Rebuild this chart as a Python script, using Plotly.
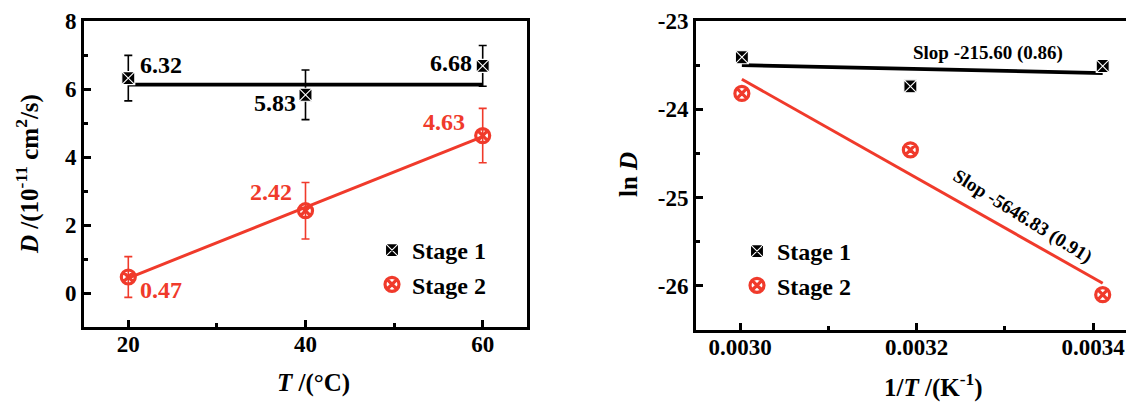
import plotly.graph_objects as go

# ---------------- data ----------------
T_c = [20, 40, 60]
stage1_D = [6.32, 5.83, 6.68]
stage1_err = [0.67, 0.73, 0.60]
stage2_D = [0.47, 2.42, 4.63]
stage2_err = [0.60, 0.83, 0.80]
fit1_T = [20, 60]
fit1_D = [6.13, 6.13]
fit2_T = [20, 60]
fit2_D = [0.44, 4.60]

inv_T = [0.003002, 0.003193, 0.003411]
stage1_lnD = [-23.41, -23.74, -23.51]
stage2_lnD = [-23.82, -24.46, -26.10]
fit1_invT = [0.003002, 0.003411]
fit1_lnD = [-23.50, -23.59]
fit2_invT = [0.003002, 0.003411]
fit2_lnD = [-23.66, -25.97]

slope_texts = ["Slop -215.60 (0.86)", "Slop -5646.83 (0.91)"]
left_xticks = [20, 40, 60]
left_yticks = [0, 2, 4, 6, 8]
right_xticks = [0.0030, 0.0032, 0.0034]
right_xticktext = ["0.0030", "0.0032", "0.0034"]
right_yticks = [-26, -25, -24, -23]
right_yticktext = ["-26", "-25", "-24", "-23"]

# ---------------- style ----------------
W, H = 1126, 404
FONT = "Liberation Serif"
RED = "#F03A2B"
BLACK = "#000000"

def px(x):
    return x / W

def py(y):
    return 1 - y / H

fig = go.Figure()

m1 = dict(symbol="square-x", size=13, color=BLACK, line=dict(color="white", width=1.1))
m2 = dict(symbol="circle-x-open", size=14, color=RED, line=dict(color=RED, width=3.2))

# left panel
fig.add_trace(go.Scatter(x=fit1_T, y=fit1_D, mode="lines", line=dict(color=BLACK, width=3.8),
                         showlegend=False, xaxis="x", yaxis="y"))
fig.add_trace(go.Scatter(x=fit2_T, y=fit2_D, mode="lines", line=dict(color=RED, width=3),
                         showlegend=False, xaxis="x", yaxis="y"))
fig.add_trace(go.Scatter(x=T_c, y=stage1_D, mode="markers", name="Stage 1", marker=m1,
                         error_y=dict(type="data", array=stage1_err, color=BLACK, thickness=1.6, width=4),
                         legend="legend", xaxis="x", yaxis="y"))
fig.add_trace(go.Scatter(x=T_c, y=stage2_D, mode="markers", name="Stage 2", marker=m2,
                         error_y=dict(type="data", array=stage2_err, color=RED, thickness=1.6, width=4),
                         legend="legend", xaxis="x", yaxis="y"))

# right panel
fig.add_trace(go.Scatter(x=fit1_invT, y=fit1_lnD, mode="lines", line=dict(color=BLACK, width=3.8),
                         showlegend=False, xaxis="x2", yaxis="y2"))
fig.add_trace(go.Scatter(x=fit2_invT, y=fit2_lnD, mode="lines", line=dict(color=RED, width=3),
                         showlegend=False, xaxis="x2", yaxis="y2"))
fig.add_trace(go.Scatter(x=inv_T, y=stage1_lnD, mode="markers", name="Stage 1", marker=m1,
                         legend="legend2", xaxis="x2", yaxis="y2"))
fig.add_trace(go.Scatter(x=inv_T, y=stage2_lnD, mode="markers", name="Stage 2", marker=m2,
                         legend="legend2", xaxis="x2", yaxis="y2"))

tickfont = dict(family=FONT, size=23, color=BLACK, weight="bold")
axis_common = dict(showline=True, linewidth=3, linecolor=BLACK, ticks="inside", ticklen=7,
                   tickwidth=2.5, tickcolor=BLACK, showgrid=False, zeroline=False,
                   tickfont=tickfont, automargin=False)
minor_common = dict(ticks="inside", ticklen=4, tickwidth=2.5, tickcolor=BLACK)

fig.update_layout(
    template="none",
    width=W, height=H, margin=dict(l=0, r=0, t=0, b=0, pad=0), autosize=False,
    paper_bgcolor="white", plot_bgcolor="white",
    font=dict(family=FONT, color=BLACK),
    xaxis=dict(domain=[px(84), px(527)], range=[15, 65], tickvals=left_xticks, mirror=True,
               minor=dict(tickvals=[30, 50], **minor_common), ticklabelstandoff=-6,
               anchor="y", **axis_common),
    yaxis=dict(domain=[py(327), py(21)], range=[-1, 8], tickvals=left_yticks, mirror=True,
               minor=dict(tickvals=[-1, 1, 3, 5, 7], **minor_common),
               anchor="x", **axis_common),
    xaxis2=dict(domain=[px(696), 1.0], range=[0.00295, 0.0034374], tickvals=right_xticks,
                ticktext=right_xticktext, mirror=True, ticklabelstandoff=-6,
                minor=dict(tickvals=[0.0031, 0.0033], **minor_common),
                anchor="y2", **axis_common),
    yaxis2=dict(domain=[py(330), py(21)], range=[-26.5, -23.0], tickvals=right_yticks,
                ticktext=right_yticktext, mirror=False,
                minor=dict(tickvals=[-26.5, -25.5, -24.5, -23.5], **minor_common),
                anchor="x2", **axis_common),
    legend=dict(x=px(372), y=py(228), xanchor="left", yanchor="top", bgcolor="rgba(0,0,0,0)",
                font=dict(family=FONT, size=24, color=BLACK, weight="bold"), tracegroupgap=0,
                itemsizing="trace"),
    legend2=dict(x=px(737), y=py(229), xanchor="left", yanchor="top", bgcolor="rgba(0,0,0,0)",
                 font=dict(family=FONT, size=24, color=BLACK, weight="bold"), tracegroupgap=0,
                 itemsizing="trace"),
)

annots = []
label_font = 24
label_shifts1 = [(33, 13), (-31, -8), (-32, 3)]
label_shifts2 = [(33, -13), (-35, 19), (-39, 14)]
for xv, yv, (dx, dy) in zip(T_c, stage1_D, label_shifts1):
    annots.append(dict(x=xv, y=yv, xref="x", yref="y", text=f"{yv:.2f}", showarrow=False,
                       xanchor="center", yanchor="middle",
                       xshift=dx, yshift=dy, font=dict(family=FONT, size=label_font, color=BLACK, weight="bold")))
for xv, yv, (dx, dy) in zip(T_c, stage2_D, label_shifts2):
    annots.append(dict(x=xv, y=yv, xref="x", yref="y", text=f"{yv:.2f}", showarrow=False,
                       xanchor="center", yanchor="middle",
                       xshift=dx, yshift=dy, font=dict(family=FONT, size=label_font, color=RED, weight="bold")))

annots.append(dict(x=px(988), y=py(53), xref="paper", yref="paper", text=slope_texts[0], showarrow=False,
                   xanchor="center", yanchor="middle",
                   font=dict(family=FONT, size=19, color=BLACK, weight="bold")))
annots.append(dict(x=px(1022), y=py(216), xref="paper", yref="paper", text=slope_texts[1], showarrow=False,
                   xanchor="center", yanchor="middle",
                   textangle=32, font=dict(family=FONT, size=19, color=BLACK, weight="bold")))

title_font = dict(family=FONT, size=25, color=BLACK, weight="bold")
titles = [
    (313, 383, 0, "<i>T</i> /(°C)"),
    (28, 174, -90, "<i>D</i> /(10<sup>-11</sup> cm<sup>2</sup>/s)"),
    (933, 385, 0, "1/<i>T</i> /(K<sup>-1</sup>)"),
    (629, 175, -90, "ln <i>D</i>"),
]
for xp, yp, ang, txt in titles:
    annots.append(dict(x=px(xp), y=py(yp), xref="paper", yref="paper", showarrow=False, textangle=ang,
                       xanchor="center", yanchor="middle", text=txt, font=title_font))

fig.update_layout(annotations=annots)

fig.write_html("out.html", config={"displayModeBar": False},
               post_script="document.body.style.margin='0';document.body.style.overflow='hidden';")
